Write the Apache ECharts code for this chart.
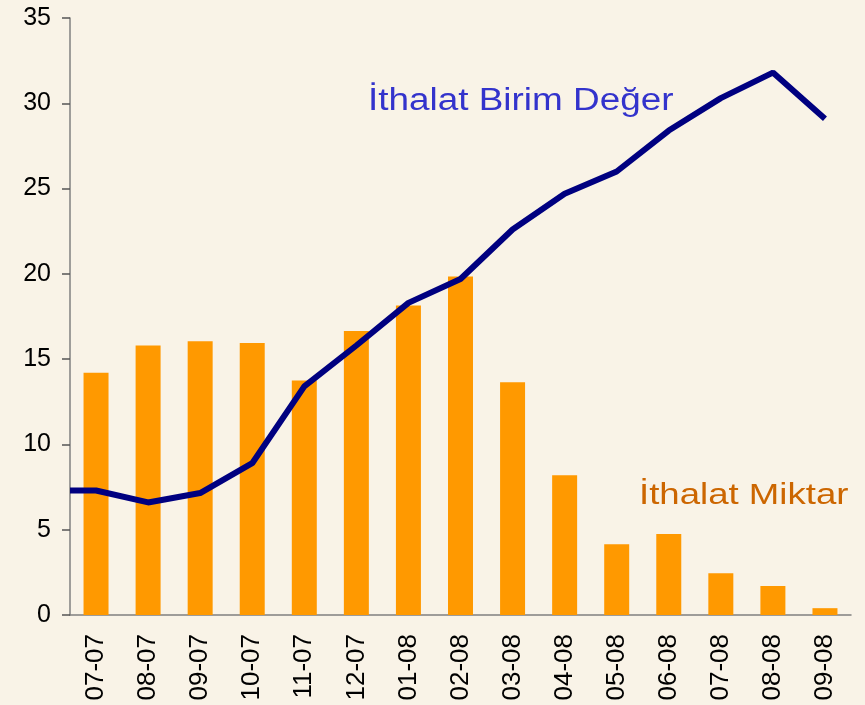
<!DOCTYPE html>
<html>
<head>
<meta charset="utf-8">
<script src="https://cdn.jsdelivr.net/npm/echarts@6/dist/echarts.min.js"></script>
<style>
  html, body { margin: 0; padding: 0; background: #F9F3E7; }
  #chart { width: 865px; height: 705px; }
</style>
</head>
<body>
<div id="chart"></div>
<script>
const months = ['07-07', '08-07', '09-07', '10-07', '11-07', '12-07', '01-08', '02-08',
  '03-08', '04-08', '05-08', '06-08', '07-08', '08-08', '09-08']
// İthalat Miktar (bars)
const miktar = [14.2, 15.8, 16.05, 15.95, 13.75, 16.65, 18.15, 19.85, 13.65, 8.2, 4.15, 4.75, 2.45, 1.7, 0.4]
// İthalat Birim Değer (line)
const birimDeger = [7.3, 6.6, 7.15, 8.9, 13.4, 15.8, 18.3, 19.7, 22.6, 24.7, 26.0, 28.4, 30.3, 31.8, 29.1]
const yTicks = { min: 0, max: 35, interval: 5 }

// line runs on a hidden value axis so it can start flat at the left edge
const lineData = [[0, birimDeger[0]]].concat(birimDeger.map((v, i) => [i + 0.5, v]))

const chart = echarts.init(document.getElementById('chart'))
const font = 'Liberation Sans, Arial, sans-serif'
const option = {
  backgroundColor: '#F9F3E7',
  animation: false,
  grid: { left: 70, right: 14, top: 18, bottom: 90 },
  xAxis: [
    {
      type: 'category',
      data: months,
      axisLine: { lineStyle: { color: '#808080', width: 1.5 } },
      axisTick: { length: 8, lineStyle: { color: '#333', width: 1.5 } },
      axisLabel: { rotate: 90, margin: 19, fontSize: 26, color: '#000', fontFamily: font },
    },
    {
      type: 'value',
      min: 0,
      max: months.length,
      show: false,
    },
  ],
  yAxis: {
    type: 'value',
    ...yTicks,
    axisLine: { show: true, lineStyle: { color: '#808080', width: 1.5 } },
    axisTick: { show: true, length: 8, lineStyle: { color: '#555', width: 1.5 } },
    axisLabel: { margin: 19, fontSize: 25, color: '#000', fontFamily: font },
    splitLine: { show: false },
  },
  series: [
    {
      name: 'İthalat Miktar',
      type: 'bar',
      data: miktar,
      barWidth: '48%',
      itemStyle: { color: '#FF9900' },
    },
    {
      name: 'İthalat Birim Değer',
      type: 'line',
      xAxisIndex: 1,
      data: lineData,
      symbol: 'none',
      lineStyle: { color: '#000080', width: 6 },
    },
  ],
  graphic: [
    {
      type: 'text',
      left: 368,
      top: 86,
      scaleX: 1.19,
      style: { text: 'İthalat Birim Değer', fontSize: 31, fill: '#3333CC', fontFamily: font },
    },
    {
      type: 'text',
      left: 639,
      top: 481,
      scaleX: 1.22,
      style: { text: 'İthalat Miktar', fontSize: 30, fill: '#CC6600', fontFamily: font },
    },
  ],
}
chart.setOption(option)
</script>
</body>
</html>
